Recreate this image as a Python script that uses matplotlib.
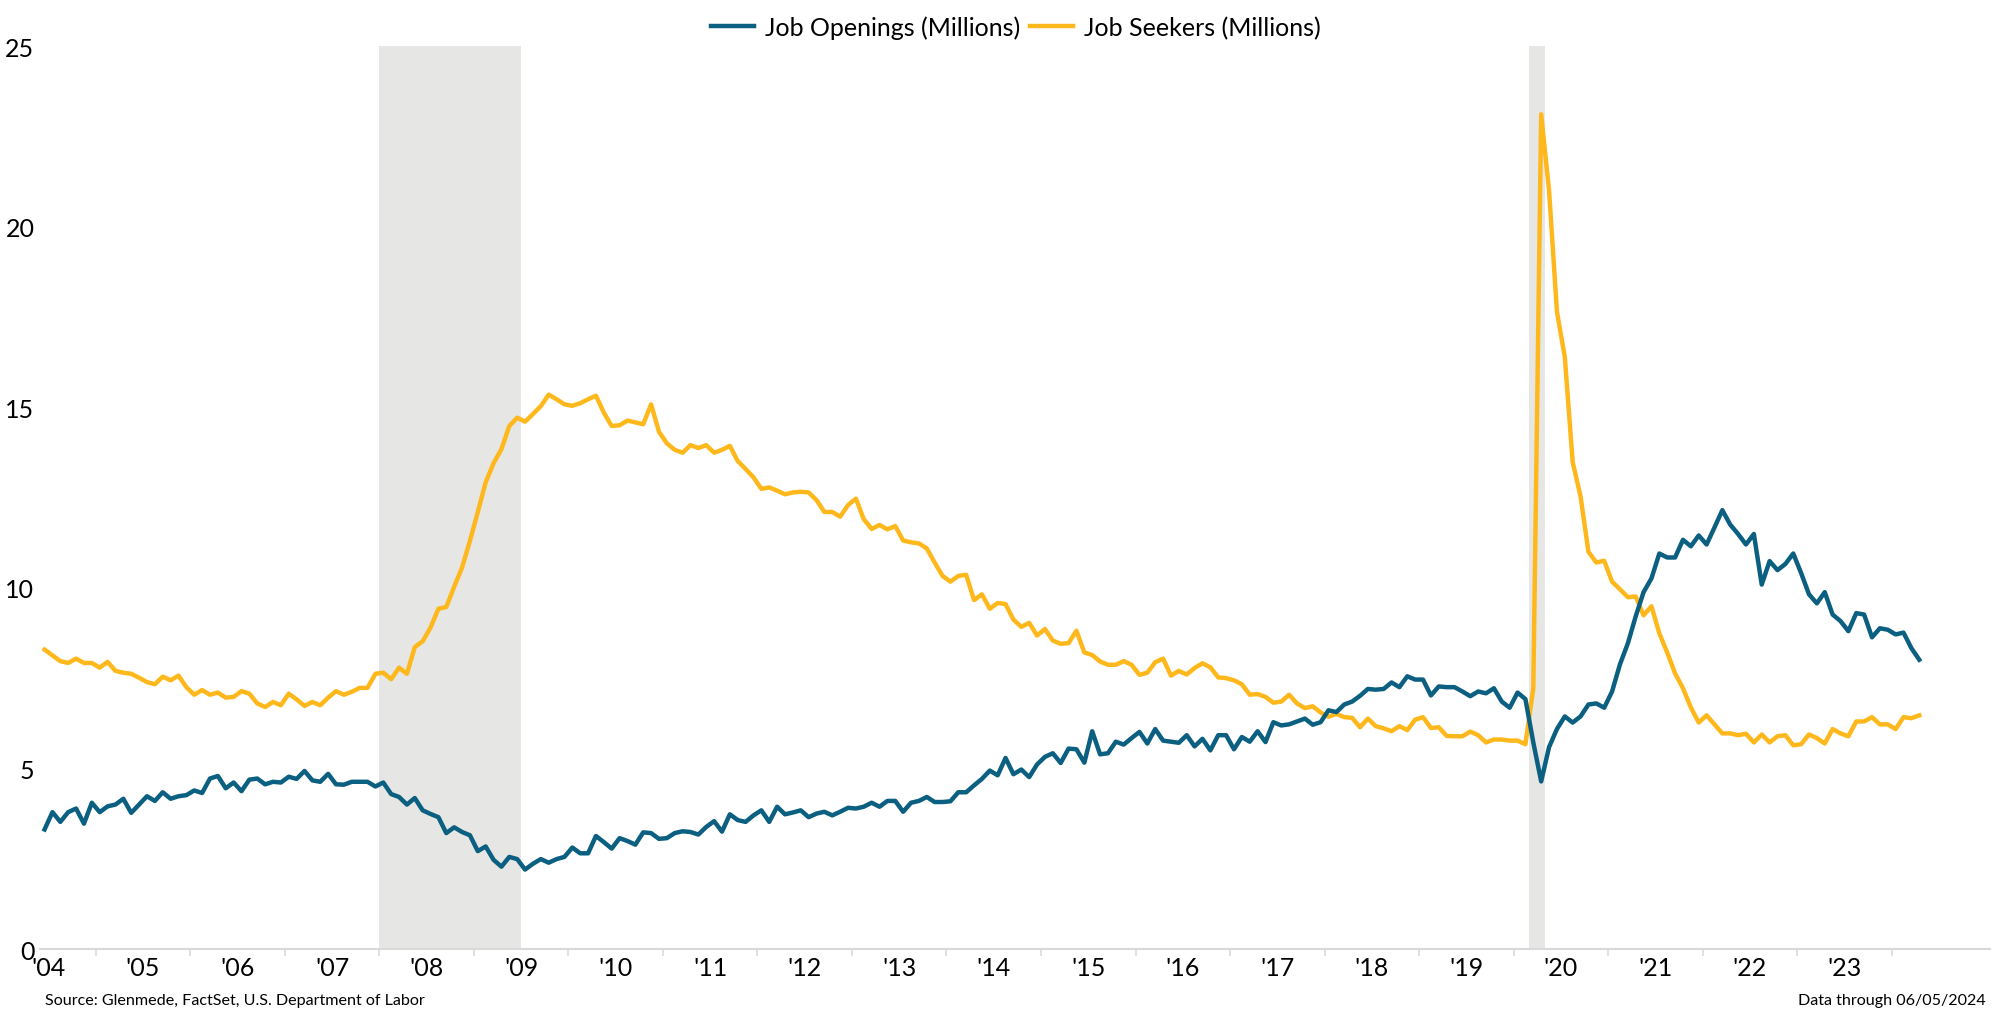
import numpy as np
import matplotlib
matplotlib.use("Agg")
from matplotlib import pyplot as plt

plt.rcParams['font.family'] = ['Lato', 'DejaVu Sans']

# monthly data, Jun 2004 .. Apr 2024
start_year, start_month = 2004, 6

openings = [
    3.31, 3.79, 3.52, 3.79, 3.89, 3.47, 4.05, 3.79, 3.95, 4.0,
    4.16, 3.77, 4.0, 4.23, 4.1, 4.34, 4.16, 4.23, 4.26, 4.39,
    4.32, 4.72, 4.79, 4.45, 4.61, 4.37, 4.69, 4.72, 4.56, 4.63,
    4.61, 4.77, 4.71, 4.93, 4.67, 4.63, 4.85, 4.56, 4.55, 4.63,
    4.63, 4.63, 4.5, 4.61, 4.29, 4.21, 4.0, 4.18, 3.84, 3.74,
    3.65, 3.21, 3.37, 3.24, 3.15, 2.71, 2.84, 2.47, 2.28, 2.55,
    2.49, 2.2, 2.36, 2.49, 2.39, 2.49, 2.55, 2.81, 2.65, 2.65,
    3.13, 2.96, 2.78, 3.07, 2.99, 2.89, 3.23, 3.21, 3.05, 3.07,
    3.21, 3.26, 3.24, 3.17,
    3.38, 3.54, 3.25, 3.73, 3.57, 3.52, 3.70, 3.84, 3.52, 3.94,
    3.73, 3.78, 3.84, 3.65, 3.75, 3.80, 3.70, 3.80, 3.91, 3.89,
    3.94, 4.05, 3.94, 4.10, 4.10, 3.80, 4.05, 4.10, 4.21, 4.07,
    4.07, 4.09, 4.34, 4.34, 4.53, 4.71, 4.94, 4.81, 5.29, 4.84,
    4.97, 4.76, 5.11, 5.32, 5.42, 5.15, 5.55, 5.53, 5.16, 6.03,
    5.39, 5.42, 5.74, 5.66, 5.84, 6.01, 5.69, 6.09, 5.77, 5.74,
    5.71, 5.92, 5.61, 5.82, 5.50, 5.92, 5.92, 5.53, 5.87, 5.74,
    6.03, 5.73, 6.28, 6.19, 6.22, 6.30, 6.38, 6.21, 6.28, 6.61,
    6.56, 6.77, 6.85, 7.01, 7.20, 7.18, 7.20, 7.38, 7.25, 7.55,
    7.46, 7.46, 7.02, 7.27, 7.25,
    7.25, 7.13, 7.0, 7.13, 7.08, 7.22, 6.85, 6.68, 7.10, 6.92,
    5.72, 4.64, 5.59, 6.09, 6.44, 6.27, 6.44, 6.77, 6.80, 6.68,
    7.13, 7.88, 8.46, 9.21, 9.88, 10.26, 10.95, 10.84, 10.84, 11.33,
    11.15, 11.45, 11.20, 11.67, 12.15, 11.75, 11.49, 11.20, 11.49, 10.09,
    10.74, 10.49, 10.66, 10.95, 10.41, 9.82, 9.57, 9.88, 9.26, 9.08,
    8.80, 9.30, 9.26, 8.63, 8.88, 8.84, 8.71, 8.76, 8.33, 8.01,
]

seekers = [
    8.29, 8.13, 7.97, 7.92, 8.04, 7.92, 7.92, 7.79, 7.95, 7.70,
    7.65, 7.62, 7.51, 7.39, 7.33, 7.54, 7.44, 7.57, 7.25, 7.04,
    7.17, 7.04, 7.10, 6.96, 6.98, 7.14, 7.07, 6.80, 6.70, 6.84,
    6.75, 7.07, 6.91, 6.73, 6.84, 6.75, 6.96, 7.14, 7.04, 7.12,
    7.23, 7.23, 7.62, 7.65, 7.47, 7.79, 7.62, 8.36, 8.52, 8.90,
    9.42, 9.47, 10.03, 10.56, 11.30, 12.10, 12.92, 13.45, 13.84, 14.48,
    14.71, 14.60, 14.81, 15.03, 15.35, 15.22, 15.08, 15.04, 15.11, 15.22,
    15.32, 14.85, 14.48, 14.50, 14.63, 14.58, 14.53, 15.08, 14.32, 14.0,
    13.82, 13.74, 13.95, 13.87,
    13.95, 13.74, 13.82, 13.93, 13.51, 13.29, 13.06, 12.74, 12.78, 12.69,
    12.59, 12.64, 12.66, 12.64, 12.43, 12.10, 12.10, 11.97, 12.29, 12.47,
    11.90, 11.63, 11.74, 11.62, 11.71, 11.31, 11.26, 11.23, 11.09, 10.70,
    10.33, 10.17, 10.33, 10.36, 9.66, 9.82, 9.42, 9.58, 9.55, 9.12,
    8.92, 9.03, 8.68, 8.86, 8.54, 8.45, 8.47, 8.81, 8.21, 8.14,
    7.96, 7.87, 7.87, 7.97, 7.87, 7.59, 7.65, 7.94, 8.04, 7.57,
    7.70, 7.60, 7.78, 7.91, 7.80, 7.52, 7.50, 7.44, 7.33, 7.04,
    7.06, 6.98, 6.82, 6.85, 7.04, 6.80, 6.67, 6.72, 6.55, 6.43,
    6.51, 6.42, 6.40, 6.14, 6.38, 6.17, 6.11, 6.03, 6.17, 6.06,
    6.35, 6.42, 6.12, 6.14, 5.90,
    5.89, 5.89, 6.02, 5.92, 5.72, 5.80, 5.80, 5.77, 5.77, 5.67,
    7.22, 23.11, 21.0, 17.65, 16.39, 13.48, 12.53, 11.0, 10.70, 10.75,
    10.17, 9.96, 9.74, 9.76, 9.24, 9.49, 8.74, 8.21, 7.63, 7.22,
    6.69, 6.27, 6.47, 6.22, 5.97, 5.97, 5.92, 5.96, 5.72, 5.94,
    5.72, 5.89, 5.92, 5.64, 5.67, 5.94, 5.84, 5.69, 6.09, 5.97,
    5.89, 6.30, 6.30, 6.42, 6.22, 6.22, 6.09, 6.42, 6.39, 6.47,
]

# recessions (first month, last month)
recessions = [((2007, 12), (2009, 6)), ((2020, 2), (2020, 4))]

years = list(range(2004, 2024))
year_labels = ["'%02d" % (y % 100) for y in years]

teal = '#0b5f80'
gold = '#ffb81c'
shade = '#e6e6e4'

n = len(openings)
x = start_year + (start_month - 1 + np.arange(n) + 0.5) / 12

fig = plt.figure(figsize=(20, 10.2), dpi=100)
ax = fig.add_axes([0.02, 0.0686, 0.975, 0.8853])

for (y0, m0), (y1, m1) in recessions:
    ax.axvspan(y0 + m0 / 12, y1 + m1 / 12, color=shade, lw=0, zorder=0)

ax.plot(x, openings, color=teal, lw=3.2, label='Job Openings (Millions)',
        solid_joinstyle='round', zorder=3)
ax.plot(x, seekers, color=gold, lw=3.2, label='Job Seekers (Millions)',
        solid_joinstyle='round', zorder=2)

ax.set_xlim(2004.41, 2025.04)
ax.set_ylim(0, 25)
ax.set_yticks(np.arange(0, 26, 5))
ax.tick_params(axis='y', length=0, pad=4, labelsize=18)

ax.set_xticks([y + 0.5 for y in years])
ax.set_xticklabels(year_labels)
ax.set_xticks(np.arange(2005, 2025), minor=True)
ax.tick_params(axis='x', which='major', length=0, pad=5, labelsize=18)
ax.tick_params(axis='x', which='minor', length=5, width=1.2, color='#d9d9d9')

for s in ['top', 'right', 'left']:
    ax.spines[s].set_visible(False)
ax.spines['bottom'].set_color('#d9d9d9')
ax.spines['bottom'].set_linewidth(1.5)

fig.legend(loc='upper center', bbox_to_anchor=(0.508, 1.006), ncol=2,
           frameon=False, fontsize=18, handlelength=1.7, handletextpad=0.45,
           columnspacing=0.4)

fig.text(0.0225, 0.019, 'Source: Glenmede, FactSet, U.S. Department of Labor',
         fontsize=11.6, va='center', ha='left')
fig.text(0.993, 0.019, 'Data through 06/05/2024',
         fontsize=11.6, va='center', ha='right')

fig.savefig('out.png', dpi=100)
